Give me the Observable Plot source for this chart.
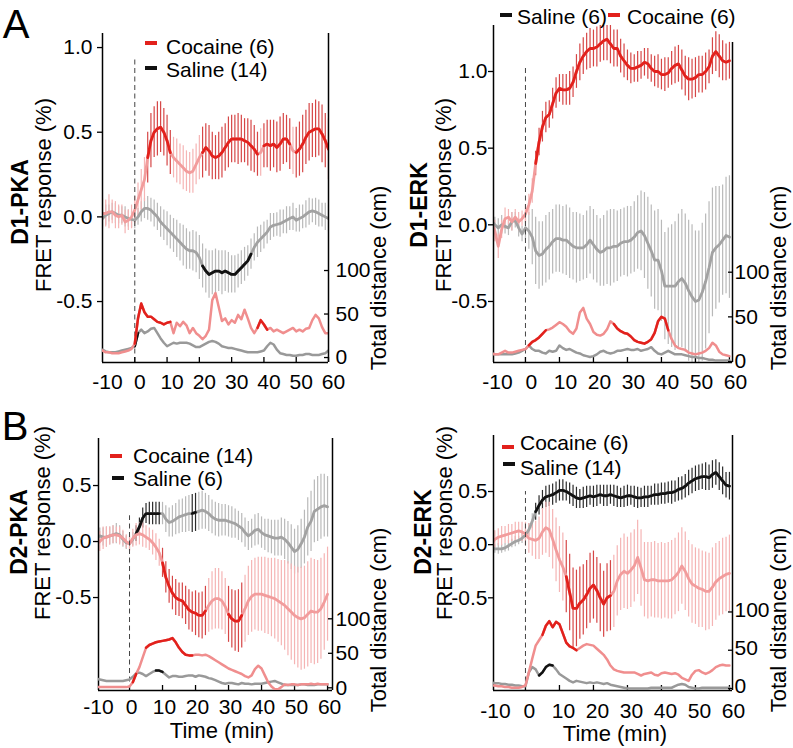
<!DOCTYPE html>
<html><head><meta charset="utf-8">
<script src="https://cdn.jsdelivr.net/npm/d3@7"></script>
<script src="https://cdn.jsdelivr.net/npm/@observablehq/plot@0.6"></script>
<style>
html,body{margin:0;padding:0;background:#fff;}
#fig{position:relative;width:793px;height:748px;overflow:hidden;font-family:"Liberation Sans",Arial,Helvetica,sans-serif;color:#000;background:#fff;}
.layer{position:absolute;}
.lbl{position:absolute;white-space:nowrap;line-height:1;transform:translate(-50%,-50%);}
.rot{transform:translate(-50%,-50%) rotate(-90deg);}
.legt{position:absolute;white-space:nowrap;line-height:1;font-size:21px;transform:translateY(-50%);}
.dash{position:absolute;height:4px;}
</style></head><body><div id="fig"></div>
<script>
// ---------- DATA (time in minutes, one sample per minute from -10 to 60) ----------
const minutes = d3.range(-10, 61);
const timeTicks = [-10, 0, 10, 20, 30, 40, 50, 60];
const distTicks = [0, 50, 100];
const fretTicksA = [-0.5, 0, 0.5, 1.0];
const fretTicksB = [-0.5, 0, 0.5];

// D1-PKA
const d1pkaCocaine = [0.02,0.02,0.03,0.03,0.01,0.0,0.01,-0.03,-0.02,0.0,
 0.04,0.1,0.16,0.22,0.35,0.45,0.5,0.52,0.53,0.5,
 0.45,0.38,0.35,0.33,0.31,0.29,0.27,0.26,0.27,0.31,
 0.35,0.38,0.41,0.39,0.36,0.35,0.36,0.38,0.41,0.44,
 0.46,0.46,0.46,0.46,0.45,0.44,0.42,0.4,0.37,0.38,
 0.42,0.43,0.42,0.43,0.41,0.43,0.46,0.46,0.43,0.39,
 0.38,0.4,0.43,0.47,0.5,0.51,0.52,0.52,0.49,0.45,0.4];
const d1pkaCocaineErr = [0.09,0.08,0.1,0.07,0.08,0.07,0.06,0.07,0.06,0.07,
 0.08,0.1,0.12,0.13,0.15,0.16,0.15,0.16,0.15,0.14,
 0.15,0.13,0.12,0.13,0.12,0.13,0.12,0.12,0.13,0.12,
 0.13,0.15,0.14,0.15,0.14,0.13,0.14,0.15,0.14,0.15,
 0.14,0.14,0.15,0.14,0.13,0.14,0.15,0.14,0.13,0.14,
 0.13,0.14,0.15,0.14,0.15,0.16,0.15,0.14,0.15,0.14,
 0.15,0.16,0.17,0.16,0.17,0.16,0.17,0.16,0.17,0.16,0.18];
const d1pkaSaline = [-0.01,0.01,0.02,0.03,0.02,0.01,0.01,0.0,-0.01,-0.015,
 -0.02,0.0,0.03,0.05,0.05,0.04,0.02,0.0,-0.03,-0.05,
 -0.07,-0.09,-0.11,-0.13,-0.15,-0.17,-0.19,-0.2,-0.2,-0.21,
 -0.24,-0.29,-0.32,-0.34,-0.33,-0.32,-0.32,-0.33,-0.32,-0.33,
 -0.34,-0.34,-0.32,-0.3,-0.28,-0.26,-0.22,-0.18,-0.15,-0.13,
 -0.11,-0.09,-0.06,-0.05,-0.045,-0.04,-0.03,-0.02,-0.01,0.0,
 -0.02,-0.01,0.0,0.015,0.03,0.035,0.03,0.02,0.01,0.0,-0.01];
const d1pkaSalineErr = [0.05,0.06,0.05,0.05,0.06,0.05,0.05,0.06,0.05,0.05,
 0.05,0.05,0.06,0.06,0.07,0.07,0.08,0.08,0.09,0.09,
 0.1,0.1,0.1,0.11,0.11,0.12,0.12,0.11,0.12,0.12,
 0.13,0.13,0.13,0.14,0.13,0.13,0.12,0.13,0.12,0.12,
 0.11,0.11,0.1,0.1,0.1,0.09,0.09,0.08,0.09,0.08,
 0.08,0.07,0.08,0.07,0.07,0.08,0.07,0.08,0.07,0.08,
 0.07,0.08,0.07,0.08,0.08,0.07,0.08,0.08,0.07,0.08,0.08];
const d1pkaCocaineDist = [8,6,6,5,5,5,6,7,8,10,
 16,45,62,52,47,47,44,41,40,38,
 40,41,28,40,36,41,37,28,34,28,
 25,21,25,32,66,74,58,42,45,38,
 43,40,49,44,55,45,34,28,34,43,
 38,32,34,30,32,30,28,30,32,34,
 30,32,30,33,34,43,49,45,35,28,28];
const d1pkaSalineDist = [9,7,6,6,6,7,8,9,10,11,
 13,28,32,28,30,33,34,28,22,17,
 13,15,17,16,17,17,17,16,14,12,
 12,14,16,18,19,18,16,13,12,11,
 11,10,9,8,7,6,6,6,6,7,
 8,13,17,15,9,5,4,3,3,2,
 2,3,3,4,4,3,3,3,4,5,8];
const d1pkaCocaineSig = [[3.5,11],[21,38.5],[39.5,48.5],[49.5,60]];
const d1pkaSalineSig = [[20.5,36]];
const d1pkaCocaineDistSig = [[0,11],[38,41]];
const d1pkaSalineDistSig = [[0,1]];

// D1-ERK
const d1erkCocaine = [0.02,-0.04,-0.14,-0.03,0.04,0.05,0.02,0.05,0.02,0.04,
 0.07,0.13,0.22,0.4,0.54,0.64,0.7,0.72,0.79,0.86,
 0.89,0.88,0.88,0.89,0.93,1.0,1.06,1.1,1.13,1.15,
 1.15,1.16,1.18,1.2,1.21,1.18,1.15,1.15,1.1,1.07,
 1.04,1.02,1.02,1.03,1.04,1.06,1.05,1.02,1.0,1.0,
 0.98,0.98,0.99,1.02,1.04,1.05,1.01,0.97,0.95,0.95,
 0.96,0.98,0.98,1.0,1.03,1.1,1.13,1.1,1.07,1.06,1.07];
const d1erkCocaineErr = [0.06,0.07,0.08,0.06,0.07,0.05,0.06,0.05,0.06,0.05,
 0.06,0.07,0.08,0.08,0.09,0.1,0.1,0.09,0.1,0.1,
 0.09,0.1,0.1,0.11,0.1,0.11,0.12,0.12,0.12,0.13,
 0.12,0.13,0.12,0.13,0.14,0.13,0.12,0.12,0.11,0.11,
 0.1,0.1,0.09,0.1,0.09,0.09,0.1,0.09,0.1,0.11,
 0.1,0.11,0.1,0.11,0.12,0.12,0.13,0.13,0.14,0.13,
 0.13,0.12,0.12,0.12,0.11,0.12,0.13,0.14,0.13,0.12,0.12];
const d1erkSaline = [0.03,0.0,-0.02,0.0,-0.01,-0.02,0.02,0.03,-0.02,-0.06,
 -0.02,-0.04,-0.08,-0.17,-0.2,-0.19,-0.16,-0.14,-0.11,-0.09,
 -0.09,-0.1,-0.1,-0.12,-0.14,-0.15,-0.15,-0.15,-0.13,-0.1,
 -0.13,-0.16,-0.18,-0.17,-0.15,-0.15,-0.14,-0.14,-0.12,-0.11,
 -0.11,-0.1,-0.08,-0.05,-0.04,-0.07,-0.12,-0.17,-0.23,-0.23,
 -0.3,-0.4,-0.4,-0.4,-0.4,-0.37,-0.35,-0.38,-0.43,-0.47,
 -0.5,-0.49,-0.44,-0.37,-0.28,-0.18,-0.15,-0.13,-0.1,-0.07,-0.08];
const d1erkSalineErr = [0.06,0.05,0.06,0.06,0.05,0.05,0.06,0.05,0.06,0.05,
 0.08,0.12,0.18,0.22,0.22,0.21,0.22,0.22,0.21,0.22,
 0.22,0.22,0.23,0.23,0.22,0.23,0.22,0.21,0.22,0.22,
 0.23,0.22,0.22,0.23,0.24,0.25,0.24,0.23,0.22,0.22,
 0.23,0.22,0.23,0.24,0.26,0.28,0.3,0.3,0.32,0.33,
 0.33,0.35,0.38,0.4,0.42,0.44,0.45,0.45,0.46,0.47,
 0.46,0.45,0.45,0.44,0.43,0.42,0.4,0.38,0.36,0.38,0.4];
const d1erkCocaineDist = [9,8,8,10,12,10,10,11,12,13,
 14,18,22,24,27,31,35,36,38,41,
 44,42,39,34,31,37,55,60,48,42,
 33,30,29,31,36,45,42,37,34,32,
 31,28,24,22,21,20,22,25,32,45,
 50,48,35,25,18,15,14,13,10,9,
 8,9,10,12,15,21,18,11,8,7,6];
const d1erkSalineDist = [9,8,8,8,8,8,8,9,10,12,
 14,18,14,12,12,10,9,12,11,12,
 18,15,13,14,12,10,9,7,6,5,
 6,8,11,12,10,9,10,12,12,13,
 14,13,13,14,12,13,14,16,12,9,
 8,10,12,10,8,8,8,7,6,5,
 5,4,4,3,2,2,1,1,1,1,1];
const d1erkCocaineSig = [[3,60]];
const d1erkSalineSig = [];
const d1erkCocaineDistSig = [[0.5,6.5],[25.5,42]];
const d1erkSalineDistSig = [];

// D2-PKA
const d2pkaCocaine = [-0.02,0.0,0.03,0.04,0.05,0.06,0.06,0.05,0.03,0.0,
 -0.02,0.03,0.06,0.07,0.06,0.04,0.02,-0.01,-0.05,-0.1,
 -0.19,-0.32,-0.4,-0.46,-0.5,-0.52,-0.53,-0.57,-0.61,-0.63,
 -0.64,-0.66,-0.66,-0.62,-0.57,-0.53,-0.51,-0.51,-0.53,-0.58,
 -0.65,-0.69,-0.71,-0.71,-0.66,-0.6,-0.53,-0.49,-0.47,-0.47,
 -0.47,-0.48,-0.49,-0.5,-0.51,-0.53,-0.55,-0.57,-0.6,-0.63,
 -0.66,-0.68,-0.69,-0.68,-0.65,-0.62,-0.63,-0.63,-0.6,-0.54,-0.47];
const d2pkaCocaineErr = [0.08,0.09,0.1,0.09,0.08,0.08,0.07,0.08,0.07,0.06,
 0.07,0.08,0.1,0.1,0.11,0.1,0.1,0.11,0.12,0.12,
 0.13,0.14,0.15,0.15,0.16,0.15,0.16,0.17,0.18,0.18,
 0.2,0.2,0.21,0.22,0.24,0.26,0.27,0.27,0.26,0.25,
 0.25,0.26,0.27,0.28,0.29,0.3,0.31,0.32,0.32,0.33,
 0.33,0.34,0.34,0.35,0.36,0.37,0.38,0.4,0.42,0.43,
 0.44,0.45,0.46,0.46,0.47,0.47,0.47,0.46,0.45,0.43,0.42];
const d2pkaSaline = [0.03,0.05,0.04,0.04,0.05,0.06,0.07,0.06,0.02,-0.01,
 -0.02,0.02,0.07,0.13,0.21,0.25,0.25,0.25,0.25,0.25,
 0.25,0.2,0.17,0.18,0.2,0.22,0.23,0.24,0.25,0.25,
 0.26,0.27,0.28,0.27,0.25,0.22,0.2,0.19,0.19,0.19,
 0.18,0.17,0.16,0.14,0.12,0.08,0.05,0.07,0.1,0.11,
 0.08,0.06,0.05,0.04,0.03,0.03,0.04,0.02,-0.01,-0.05,
 -0.09,-0.07,-0.02,0.04,0.13,0.18,0.27,0.29,0.31,0.32,0.31];
const d2pkaSalineErr = [0.06,0.07,0.08,0.09,0.08,0.08,0.09,0.08,0.07,0.06,
 0.06,0.06,0.07,0.08,0.09,0.09,0.1,0.1,0.1,0.1,
 0.1,0.12,0.13,0.14,0.14,0.15,0.15,0.16,0.16,0.17,
 0.17,0.17,0.17,0.16,0.16,0.15,0.15,0.15,0.14,0.14,
 0.14,0.14,0.13,0.13,0.13,0.13,0.13,0.13,0.14,0.14,
 0.14,0.14,0.15,0.15,0.16,0.16,0.17,0.18,0.19,0.2,
 0.2,0.21,0.22,0.24,0.26,0.27,0.28,0.29,0.29,0.28,0.27];
const d2pkaCocaineDist = [1,1,1,1,1,1,1,1,1,1,
 2,8,20,30,44,58,62,64,66,67,
 68,69,70,72,66,58,52,48,47,47,
 48,48,47,48,46,43,40,37,34,31,
 28,26,24,22,20,17,15,18,27,32,
 28,18,8,2,-2,-2,1,5,4,5,
 5,4,5,5,5,6,5,6,5,5,5];
const d2pkaSalineDist = [13,12,11,10,10,10,10,10,10,11,
 12,16,21,22,20,17,20,23,25,25,
 23,19,15,17,17,16,16,17,18,18,
 16,18,17,16,14,13,11,9,7,6,
 7,7,6,5,7,6,6,5,6,6,
 6,7,8,9,10,8,6,4,4,4,
 4,4,5,5,4,4,4,5,5,5,5];
const d2pkaCocaineSig = [[9.5,23.5],[29.5,34.5]];
const d2pkaSalineSig = [[1.5,9.5],[18.5,20]];
const d2pkaCocaineDistSig = [[0.5,2.5],[4.5,19]];
const d2pkaSalineDistSig = [[8,10]];

// D2-ERK
const d2erkCocaine = [0.0,0.05,0.07,0.08,0.09,0.1,0.11,0.12,0.13,0.12,
 0.1,0.06,0.05,0.04,0.06,0.12,0.16,0.14,0.05,-0.05,
 -0.14,-0.21,-0.3,-0.45,-0.6,-0.6,-0.55,-0.52,-0.47,-0.41,
 -0.38,-0.43,-0.5,-0.56,-0.5,-0.48,-0.44,-0.34,-0.28,-0.25,
 -0.27,-0.24,-0.2,-0.12,-0.22,-0.33,-0.34,-0.33,-0.33,-0.34,
 -0.34,-0.34,-0.34,-0.33,-0.3,-0.26,-0.2,-0.25,-0.32,-0.37,
 -0.39,-0.41,-0.42,-0.44,-0.44,-0.4,-0.35,-0.32,-0.3,-0.28,-0.27];
const d2erkCocaineErr = [0.07,0.08,0.08,0.09,0.08,0.09,0.08,0.09,0.08,0.09,
 0.11,0.14,0.16,0.18,0.2,0.22,0.24,0.26,0.28,0.3,
 0.31,0.32,0.34,0.36,0.38,0.36,0.34,0.33,0.32,0.33,
 0.32,0.31,0.32,0.31,0.32,0.33,0.34,0.33,0.34,0.35,
 0.34,0.35,0.34,0.35,0.36,0.35,0.36,0.35,0.36,0.35,
 0.36,0.35,0.36,0.37,0.36,0.37,0.36,0.37,0.36,0.37,
 0.36,0.37,0.36,0.37,0.36,0.37,0.36,0.35,0.36,0.35,0.36];
const d2erkSaline = [-0.03,-0.04,-0.04,-0.04,-0.03,-0.01,0.01,0.03,0.04,0.06,
 0.09,0.14,0.22,0.31,0.37,0.42,0.45,0.46,0.47,0.49,
 0.51,0.51,0.5,0.48,0.46,0.44,0.43,0.44,0.45,0.46,
 0.45,0.46,0.47,0.46,0.46,0.47,0.46,0.45,0.44,0.45,
 0.46,0.46,0.45,0.44,0.44,0.45,0.45,0.46,0.47,0.47,
 0.48,0.48,0.49,0.49,0.5,0.52,0.53,0.55,0.58,0.6,
 0.62,0.63,0.64,0.64,0.63,0.66,0.68,0.64,0.6,0.56,0.55];
const d2erkSalineErr = [0.04,0.04,0.05,0.04,0.04,0.05,0.04,0.05,0.04,0.05,
 0.05,0.06,0.07,0.08,0.09,0.09,0.1,0.1,0.1,0.1,
 0.1,0.1,0.09,0.1,0.1,0.1,0.09,0.1,0.1,0.09,
 0.1,0.1,0.09,0.1,0.1,0.09,0.1,0.1,0.09,0.1,
 0.1,0.09,0.1,0.1,0.09,0.1,0.1,0.09,0.1,0.1,
 0.1,0.1,0.1,0.11,0.1,0.11,0.11,0.11,0.12,0.12,
 0.12,0.12,0.12,0.13,0.12,0.13,0.12,0.13,0.13,0.12,0.13];
const d2erkCocaineDist = [4,4,3,3,2,2,1,1,1,2,
 4,21,39,56,63,70,82,88,80,87,
 84,72,60,55,53,50,53,56,58,57,
 56,52,48,44,38,30,25,23,22,21,
 21,21,21,19,17,19,20,21,18,17,
 20,21,20,19,20,18,14,12,10,18,
 23,24,21,19,21,24,28,30,31,30,30];
const d2erkSalineDist = [8,7,7,6,6,5,5,4,4,3,
 3,21,28,25,17,21,28,31,30,25,
 19,16,13,10,8,10,9,8,7,8,
 7,8,7,6,7,5,4,3,2,1,
 0,0,0,0,0,0,0,1,1,1,
 1,1,1,1,3,5,6,5,2,1,
 0,0,1,1,1,1,1,1,1,1,1];
const d2erkCocaineSig = [[11.5,23.2],[23.8,25.5]];
const d2erkSalineSig = [[2.5,60]];
const d2erkCocaineDistSig = [[4.5,15.5]];
const d2erkSalineDistSig = [[3.5,8.5]];

// ---------- STYLE / LAYOUT ----------
const FONT = '"Liberation Sans", Arial, Helvetica, sans-serif';
const COL = {red:"#e2211c", pink:"#f29c9c", redBar:"#d64646", pinkBar:"#f5b4b4",
  black:"#111111", gray:"#a2a2a2", blackBar:"#2a2a2a", grayBar:"#b9b9b9",
  pinkDist:"#f08e8e", grayDist:"#999999"};

const panels = [
 {name:"D1-PKA", coc:d1pkaCocaine, cocErr:d1pkaCocaineErr, sal:d1pkaSaline, salErr:d1pkaSalineErr,
  cocDist:d1pkaCocaineDist, salDist:d1pkaSalineDist, cocSig:d1pkaCocaineSig, salSig:d1pkaSalineSig,
  cocDistSig:d1pkaCocaineDistSig, salDistSig:d1pkaSalineDistSig, fretTicks:fretTicksA, salSigBar:COL.grayBar,
  legend:[{label:"Cocaine (6)", color:COL.red, dx:145, dy:43, tx:166, ty:46},{label:"Saline (14)", color:COL.black, dx:145, dy:68, tx:166, ty:69}],
  L:{left:0, top:0, width:400, height:390, mL:102, mR:72, fretTop:33, distTop:33, mB:28,
     xDomain:[-10,60], fretDomain:[-0.86,1.083], distDomain:[-5.7,372.4], dashTop:0.935,
     lPad:5, rPad:7, rDy:0, bPad:12, bDx:5,
     name:[20,202], fret:[44,195], dist:[379,278], time:null}},
 {name:"D1-ERK", coc:d1erkCocaine, cocErr:d1erkCocaineErr, sal:d1erkSaline, salErr:d1erkSalineErr,
  cocDist:d1erkCocaineDist, salDist:d1erkSalineDist, cocSig:d1erkCocaineSig, salSig:d1erkSalineSig,
  cocDistSig:d1erkCocaineDistSig, salDistSig:d1erkSalineDistSig, fretTicks:fretTicksA, salSigBar:COL.blackBar,
  legend:[{label:"Saline (6)", color:COL.black, dx:500, dy:15, tx:517, ty:16},{label:"Cocaine (6)", color:COL.red, dx:608, dy:15, tx:627, ty:16}],
  L:{left:400, top:0, width:393, height:390, mL:93, mR:61, fretTop:25, distTop:42, mB:28,
     xDomain:[-9.4,60.9], fretDomain:[-0.898,1.3], distDomain:[-1.1,357.2], dashTop:1.03,
     lPad:1, rPad:2, rDy:0, bPad:12, bDx:6,
     name:[419,205], fret:[444,195], dist:[779,278], time:null}},
 {name:"D2-PKA", coc:d2pkaCocaine, cocErr:d2pkaCocaineErr, sal:d2pkaSaline, salErr:d2pkaSalineErr,
  cocDist:d2pkaCocaineDist, salDist:d2pkaSalineDist, cocSig:d2pkaCocaineSig, salSig:d2pkaSalineSig,
  cocDistSig:d2pkaCocaineDistSig, salDistSig:d2pkaSalineDistSig, fretTicks:fretTicksB, salSigBar:COL.blackBar,
  legend:[{label:"Cocaine (14)", color:COL.red, dx:110, dy:456, tx:133, ty:455},{label:"Saline (6)", color:COL.black, dx:112, dy:478, tx:133, ty:478}],
  L:{left:0, top:390, width:400, height:358, mL:98, mR:68, fretTop:48, distTop:48, mB:58,
     xDomain:[-9.4,61.5], fretDomain:[-1.33,0.92], distDomain:[-3.9,361.3], dashTop:0.23,
     lPad:2, rPad:3, rDy:0, bPad:9, bDx:2,
     name:[19,532], fret:[43,523], dist:[379,620], time:[222,731]}},
 {name:"D2-ERK", coc:d2erkCocaine, cocErr:d2erkCocaineErr, sal:d2erkSaline, salErr:d2erkSalineErr,
  cocDist:d2erkCocaineDist, salDist:d2erkSalineDist, cocSig:d2erkCocaineSig, salSig:d2erkSalineSig,
  cocDistSig:d2erkCocaineDistSig, salDistSig:d2erkSalineDistSig, fretTicks:fretTicksB, salSigBar:COL.blackBar,
  legend:[{label:"Cocaine (6)", color:COL.red, dx:502, dy:447, tx:520, ty:442},{label:"Saline (14)", color:COL.black, dx:503, dy:464, tx:520, ty:467}],
  L:{left:400, top:390, width:393, height:358, mL:93, mR:61, fretTop:45, distTop:45, mB:58,
     xDomain:[-9.4,60.9], fretDomain:[-1.372,1.027], distDomain:[-2.6,330.5], dashTop:0.5,
     lPad:1, rPad:2, rDy:-2, bPad:13, bDx:4,
     name:[423,532], fret:[445,523], dist:[779,620], time:[615,734]}}
];

// ---------- DRAWING ----------
const fig = document.getElementById("fig");
function rowsOf(v, e, sig) {
  return minutes.map((t, i) => ({t, v: v[i], e: e ? e[i] : 0, sig: sig.some(([a, b]) => t >= a && t <= b)}));
}
function bars(r, light, dark) {
  return [
    Plot.ruleX(r, {filter: d => !d.sig, x: "t", y1: d => d.v - d.e, y2: d => d.v + d.e, stroke: light, strokeWidth: 1.2, clip: true}),
    Plot.ruleX(r, {filter: d => d.sig, x: "t", y1: d => d.v - d.e, y2: d => d.v + d.e, stroke: dark, strokeWidth: 1.2, clip: true})
  ];
}
function trace(r, light, dark, w) {
  return [
    Plot.line(r, {x: "t", y: "v", stroke: light, strokeWidth: w, clip: true}),
    Plot.line(r, {x: "t", y: d => d.sig ? d.v : NaN, stroke: dark, strokeWidth: w, clip: true})
  ];
}
function addDiv(cls, text, x, y, extra) {
  const d = document.createElement("div");
  d.className = cls; d.textContent = text;
  d.style.left = x + "px"; d.style.top = y + "px";
  Object.assign(d.style, extra || {});
  fig.appendChild(d);
  return d;
}
function layer(svg, L) {
  const w = document.createElement("div");
  w.className = "layer"; w.style.left = L.left + "px"; w.style.top = L.top + "px";
  w.appendChild(svg); fig.appendChild(w);
}

for (const p of panels) {
  const L = p.L;
  const coc = rowsOf(p.coc, p.cocErr, p.cocSig), sal = rowsOf(p.sal, p.salErr, p.salSig);
  const cocD = rowsOf(p.cocDist, null, p.cocDistSig), salD = rowsOf(p.salDist, null, p.salDistSig);
  const common = {width: L.width, height: L.height, marginLeft: L.mL, marginRight: L.mR, marginBottom: L.mB,
    style: {fontFamily: FONT, fontSize: "21px", background: "transparent", overflow: "visible", color: "#000"}};
  const fret = Plot.plot({...common, marginTop: L.fretTop,
    x: {domain: L.xDomain, label: null}, y: {domain: L.fretDomain, label: null},
    marks: [
      ...bars(sal, COL.grayBar, p.salSigBar),
      ...bars(coc, COL.pinkBar, COL.redBar),
      ...trace(sal, COL.gray, COL.black, 2.8),
      ...trace(coc, COL.pink, COL.red, 2.8),
      Plot.ruleX([0], {y1: L.fretDomain[0], y2: L.dashTop, stroke: "#444", strokeWidth: 1, strokeDasharray: "5,3.5"}),
      Plot.ruleX([L.xDomain[0]], {stroke: "#000", strokeWidth: 1.5}),
      Plot.ruleY([L.fretDomain[0]], {stroke: "#000", strokeWidth: 1.5}),
      Plot.axisY({ticks: p.fretTicks, anchor: "left", tickSize: 5, tickPadding: L.lPad, strokeWidth: 1.3, tickFormat: d => d.toFixed(1)}),
      Plot.axisX({ticks: timeTicks, anchor: "bottom", tickSize: 0, tickPadding: L.bPad, dx: L.bDx, tickFormat: d => String(d)}),
      Plot.axisX({ticks: timeTicks.filter(t => t >= 0), anchor: "bottom", tickSize: -5, strokeWidth: 1.3, tickFormat: () => ""})
    ]});
  const dist = Plot.plot({...common, marginTop: L.distTop,
    x: {domain: L.xDomain, axis: null}, y: {domain: L.distDomain, label: null},
    marks: [
      ...trace(salD, COL.grayDist, COL.black, 2.5),
      ...trace(cocD, COL.pinkDist, COL.red, 2.5),
      Plot.ruleX([L.xDomain[1]], {stroke: "#000", strokeWidth: 1.5}),
      Plot.axisY({ticks: distTicks, anchor: "right", tickSize: -5, strokeWidth: 1.3, tickFormat: () => ""}),
      Plot.axisY({ticks: distTicks, anchor: "right", tickSize: 0, tickPadding: L.rPad, dy: L.rDy})
    ]});
  layer(fret, L);
  layer(dist, L);

  addDiv("lbl rot", p.name, L.name[0], L.name[1], {fontSize: "23px", fontWeight: "bold"});
  addDiv("lbl rot", "FRET response (%)", L.fret[0], L.fret[1], {fontSize: "22px"});
  addDiv("lbl rot", "Total distance (cm)", L.dist[0], L.dist[1], {fontSize: "22px"});
  if (L.time) addDiv("lbl", "Time (min)", L.time[0], L.time[1], {fontSize: "22px"});
  for (const g of p.legend) {
    addDiv("dash", "", g.dx, g.dy - 2, {width: "12px", background: g.color});
    addDiv("legt", g.label, g.tx, g.ty);
  }
}
addDiv("lbl", "A", 16, 24, {fontSize: "40px"});
addDiv("lbl", "B", 15, 426, {fontSize: "40px"});
</script></body></html>
